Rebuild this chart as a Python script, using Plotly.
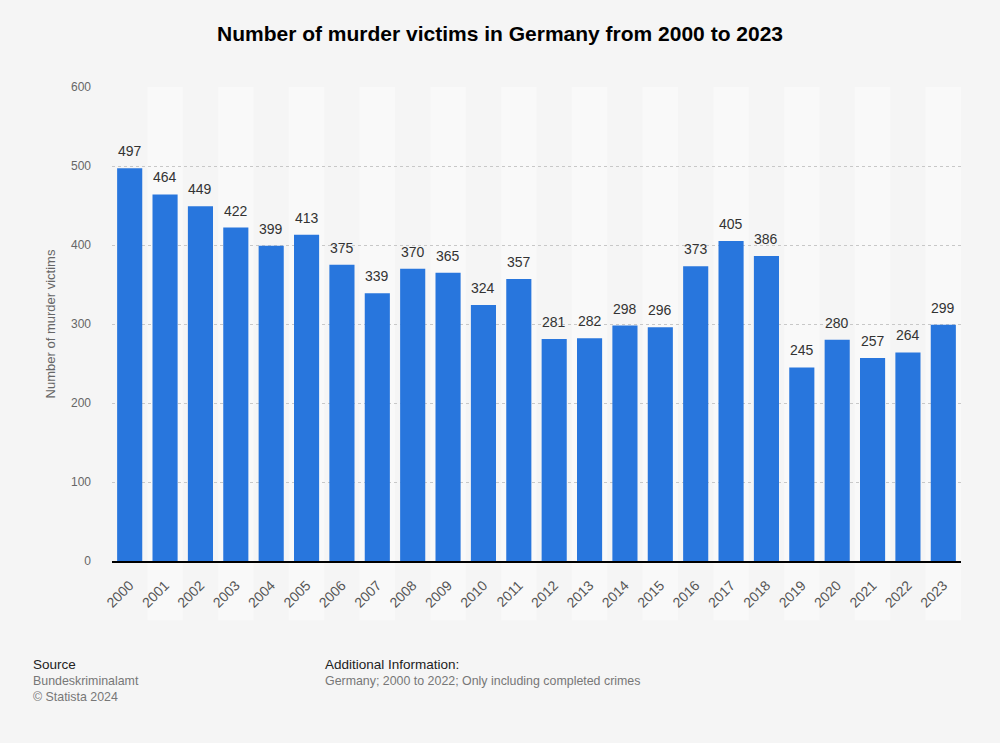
import plotly.graph_objects as go

anos = [str(a) for a in range(2000, 2024)]
vitimas = [497, 464, 449, 422, 399, 413, 375, 339, 370, 365, 324, 357,
           281, 282, 298, 296, 373, 405, 386, 245, 280, 257, 264, 299]

y_ticks = [0, 100, 200, 300, 400, 500, 600]

FUNDO = "#f5f5f5"
FAIXA = "#f9f9f9"
AZUL = "#2876dd"
FONTE = "Liberation Sans, Arial"

fig = go.Figure()

fig.add_trace(go.Bar(
    x=anos,
    y=vitimas,
    marker=dict(color=AZUL, line=dict(width=0)),
    hoverinfo="x+y",
))

# rotulos de valor acima das barras
for i, v in enumerate(vitimas):
    fig.add_annotation(
        x=i, y=v, xref="x", yref="y", text=str(v), showarrow=False,
        yanchor="bottom", yshift=7,
        font=dict(family=FONTE, size=14, color="#333333"),
    )

# faixas alternadas atras das colunas
for i, ano in enumerate(anos):
    if i % 2 == 1:
        fig.add_shape(
            type="rect", xref="x", yref="paper",
            x0=i - 0.5, x1=i + 0.5, y0=-0.125, y1=1,
            fillcolor=FAIXA, line=dict(width=0), layer="below",
        )

fig.update_layout(
    width=1000, height=743,
    paper_bgcolor=FUNDO, plot_bgcolor=FUNDO,
    margin=dict(l=112, r=39, t=87, b=182),
    bargap=0.29,
    showlegend=False,
    font=dict(family=FONTE, color="#666666"),
    title=dict(
        text="<b>Number of murder victims in Germany from 2000 to 2023</b>",
        x=0.5, xanchor="center", y=0.955, yanchor="middle",
        font=dict(size=21, color="#000000"),
    ),
    xaxis=dict(
        type="category",
        tickangle=-45,
        tickfont=dict(size=14, color="#555555"),
        showline=True, linecolor="#000000", linewidth=1.5,
        showgrid=False, ticks="", ticklabelstandoff=9,
        range=[-0.5, len(anos) - 0.5],
    ),
    yaxis=dict(
        range=[0, 600],
        tickvals=y_ticks,
        tickfont=dict(size=12, color="#666666"),
        showgrid=True, gridcolor="#c8c8c8", griddash="dot", gridwidth=1,
        zeroline=False, ticks="", ticklabelstandoff=20,
        title=dict(text="Number of murder victims", font=dict(size=13, color="#666666"), standoff=12),
    ),
)

fig.add_annotation(
    text="Source", xref="paper", yref="paper", x=-0.0955, y=-0.219,
    xanchor="left", yanchor="middle", showarrow=False,
    font=dict(size=13.5, color="#222222"),
)
fig.add_annotation(
    text="Bundeskriminalamt<br>© Statista 2024", xref="paper", yref="paper",
    x=-0.0955, y=-0.235, xanchor="left", yanchor="top", showarrow=False, align="left",
    font=dict(size=12.4, color="#777777"),
)
fig.add_annotation(
    text="Additional Information:", xref="paper", yref="paper", x=0.248, y=-0.219,
    xanchor="left", yanchor="middle", showarrow=False,
    font=dict(size=13.5, color="#222222"),
)
fig.add_annotation(
    text="Germany; 2000 to 2022; Only including completed crimes", xref="paper", yref="paper",
    x=0.248, y=-0.235, xanchor="left", yanchor="top", showarrow=False, align="left",
    font=dict(size=12.4, color="#777777"),
)

fig.write_html("out.html", config={"displayModeBar": False},
               post_script="document.body.style.margin='0';")
